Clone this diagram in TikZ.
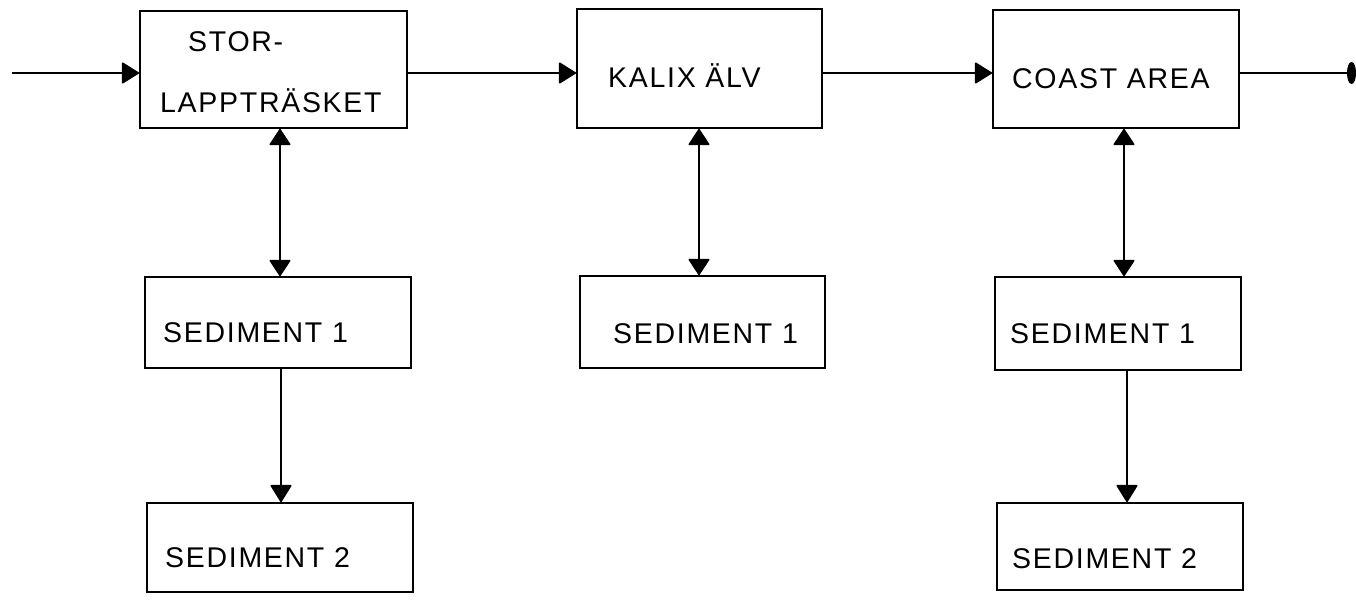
\documentclass[tikz,border=0pt]{standalone}
\usepackage{fontspec}
\setmainfont{Liberation Sans}[LetterSpace=6]
\usetikzlibrary{arrows.meta}
\begin{document}
\begin{tikzpicture}[x=1pt,y=-1pt,
  box/.style={draw,line width=1.8pt,rectangle,inner sep=0pt},
  lbl/.style={anchor=base west,inner sep=0pt,font=\fontsize{28.5}{30}\selectfont},
  flow/.style={line width=1.6pt,-{Triangle[length=18pt,width=22pt,round]}},
  both/.style={line width=1.6pt,{Triangle[length=17pt,width=22pt,round]}-{Triangle[length=17pt,width=22pt,round]}},
  endblob/.style={line width=1.6pt,-{Ellipse[length=9pt,width=22pt]}}]
\useasboundingbox (0,0) rectangle (1356,602);
% boxes
\node[box,minimum width=267pt,minimum height=117pt] (b1) at (273.5,69.5) {};
\node[box,minimum width=245pt,minimum height=119pt] (b2) at (699.5,68.5) {};
\node[box,minimum width=246pt,minimum height=118pt] (b3) at (1116,69) {};
\node[box,minimum width=266pt,minimum height=91pt] (s11) at (278,322.5) {};
\node[box,minimum width=245pt,minimum height=92pt] (s21) at (702.5,322) {};
\node[box,minimum width=246pt,minimum height=93pt] (s31) at (1118,323.5) {};
\node[box,minimum width=266pt,minimum height=89pt] (s12) at (280,547.5) {};
\node[box,minimum width=246pt,minimum height=87pt] (s32) at (1120,546.5) {};
% texts
\node[lbl] (t1a) at (188,52) {STOR-};
\node[lbl] (t1b) at (160,112) {LAPPTRÄSKET};
\node[lbl] (t2) at (608,87) {KALIX ÄLV};
\node[lbl] (t3) at (1012,88) {COAST AREA};
\node[lbl] (t11) at (163,342) {SEDIMENT 1};
\node[lbl] (t21) at (613,343) {SEDIMENT 1};
\node[lbl] (t31) at (1010,343) {SEDIMENT 1};
\node[lbl] (t12) at (165,567) {SEDIMENT 2};
\node[lbl] (t32) at (1012,568) {SEDIMENT 2};
% helper coordinates
\coordinate (in) at (12,73);
\coordinate (out) at (1356,73);
\coordinate (c1) at (280,0);
\coordinate (c1b) at (281,0);
\coordinate (c2) at (699,0);
\coordinate (c3) at (1124,0);
\coordinate (c3b) at (1127,0);
% horizontal flow
\draw[flow] (in) -- (in -| b1.west);
\draw[flow] (b1.east |- in) -- (b2.west |- in);
\draw[flow] (b2.east |- in) -- (b3.west |- in);
\draw[endblob] (b3.east |- in) -- (out);
% vertical exchanges
\draw[both] (b1.south -| c1) -- (s11.north -| c1);
\draw[both] (b2.south -| c2) -- (s21.north -| c2);
\draw[both] (b3.south -| c3) -- (s31.north -| c3);
\draw[flow] (s11.south -| c1b) -- (s12.north -| c1b);
\draw[flow] (s31.south -| c3b) -- (s32.north -| c3b);
\end{tikzpicture}
\end{document}
